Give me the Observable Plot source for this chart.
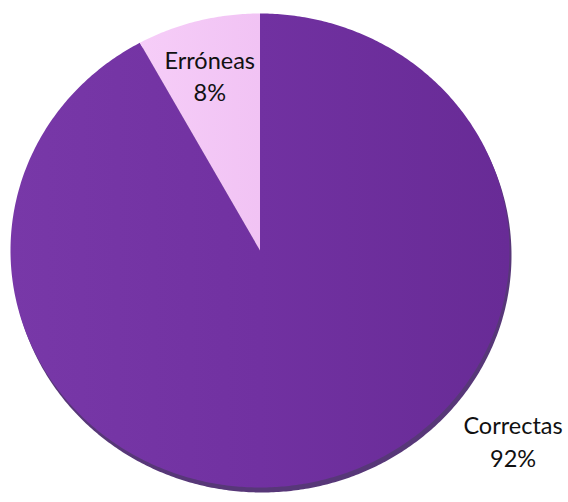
<!DOCTYPE html>
<html>
<head>
<meta charset="utf-8">
<script src="https://cdn.jsdelivr.net/npm/d3@7"></script>
<script src="https://cdn.jsdelivr.net/npm/@observablehq/plot@0.6"></script>
<style>
  html, body { margin: 0; padding: 0; background: #ffffff; }
  #chart svg { display: block; }
</style>
</head>
<body>
<div id="chart"></div>
<script>
// Data
const categories = ["Correctas", "Erróneas"];
const values = [92, 8];
const colors = ["#7030A0", "#F4C7F6"];

const W = 568, H = 502;

// Build pie polygons from data via d3.pie
const pie = d3.pie().sort(null).value(d => d.value)(categories.map((c, i) => ({name: c, value: values[i], color: colors[i]})));
const total = d3.sum(values);
const pts = [];
const labels = [];
pie.forEach((a, k) => {
  const n = Math.max(2, Math.ceil((a.endAngle - a.startAngle) / 0.01));
  pts.push({name: a.data.name, color: a.data.color, x: 0, y: 0});
  for (let i = 0; i <= n; i++) {
    const t = a.startAngle + (a.endAngle - a.startAngle) * i / n;
    pts.push({name: a.data.name, color: a.data.color, x: Math.sin(t), y: Math.cos(t)});
  }
  pts.push({name: a.data.name, color: a.data.color, x: 0, y: 0});
  const mid = (a.startAngle + a.endAngle) / 2;
  labels.push({
    text: a.data.name + "\n" + Math.round(a.data.value / total * 100) + "%",
    x: Math.sin(mid), y: Math.cos(mid), name: a.data.name
  });
});

const chart = Plot.plot({
  width: W,
  height: H,
  margin: 0,
  x: {domain: [-1, 1], range: [10, 509], axis: null},
  y: {domain: [-1, 1], range: [487, 13], axis: null},
  style: {fontFamily: "Lato, 'Open Sans', sans-serif", background: "#fff"},
  marks: [
    // shadow
    Plot.line(pts, {x: "x", y: "y", z: "name", fill: "#3a1460", stroke: "none", dx: 2, dy: 5, curve: "linear", fillOpacity: 0.85}),
    Plot.line(pts, {x: "x", y: "y", z: "name", fill: d => d.name === "Correctas" ? "url(#gPurple)" : "url(#gPink)", stroke: "none", curve: "linear"}),
    Plot.text(labels.filter(d => d.name === "Erróneas"), {
      x: d => d.x * 0.81, y: d => d.y * 0.75, text: "text", fontSize: 23.5, fill: "#111", lineHeight: 1.38, dy: -4
    }),
    Plot.text(labels.filter(d => d.name === "Correctas"), {
      x: d => d.x, y: d => d.y, text: "text", fontSize: 23.5, fill: "#111", lineHeight: 1.38, dx: 191, dy: -40
    })
  ]
});

// gradients
const svg = d3.select(chart);
const defs = svg.insert("defs", ":first-child");
const gp = defs.append("linearGradient").attr("id", "gPurple").attr("x1", "0").attr("y1", "0").attr("x2", "1").attr("y2", "0");
gp.append("stop").attr("offset", "0%").attr("stop-color", "#7838a8");
gp.append("stop").attr("offset", "50%").attr("stop-color", "#7131a1");
gp.append("stop").attr("offset", "100%").attr("stop-color", "#682b96");
const gk = defs.append("linearGradient").attr("id", "gPink").attr("x1", "0").attr("y1", "0").attr("x2", "1").attr("y2", "0");
gk.append("stop").attr("offset", "0%").attr("stop-color", "#f6cdf8");
gk.append("stop").attr("offset", "100%").attr("stop-color", "#f1c3f4");

document.getElementById("chart").appendChild(chart);
</script>
</body>
</html>
